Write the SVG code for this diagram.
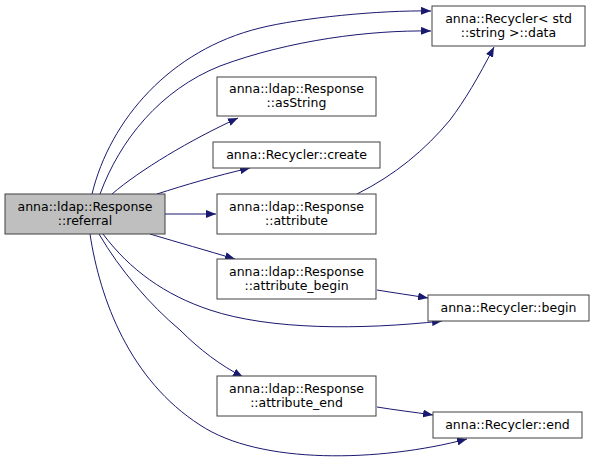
<svg xmlns="http://www.w3.org/2000/svg" width="595" height="463" viewBox="0 0 595 463">
<style>
.n rect{fill:#ffffff;stroke:#404040;stroke-width:1}
.n.main rect{fill:#bfbfbf}
.n text{font-family:"DejaVu Sans",sans-serif;font-size:12.5px;fill:#000000;text-anchor:middle}
.e path{fill:none;stroke:#191970;stroke-width:1}
</style>
<defs>
<marker id="ah" markerWidth="10" markerHeight="8" refX="10" refY="4" orient="auto" markerUnits="userSpaceOnUse">
<polygon points="0,0 10,4 0,8" fill="#191970" stroke="none"/>
</marker>
</defs>
<rect width="595" height="463" fill="#ffffff"/>
<g id="edges" class="e">
<path d="M92,194 C110,120 170,50 260,28 C300,18 380,10 431,11" marker-end="url(#ah)"/>
<path d="M100,194 C120,140 160,90 220,66 C290,40 370,30 431,31" marker-end="url(#ah)"/>
<path d="M112,194 C140,170 190,140 238,118" marker-end="url(#ah)"/>
<path d="M157,194 C185,185 215,176 250,168" marker-end="url(#ah)"/>
<path d="M165,214 L216,214" marker-end="url(#ah)"/>
<path d="M357,194 C395,175 425,150 450,120 C465,100 478,78 494,47" marker-end="url(#ah)"/>
<path d="M150,234 C180,243 205,250 235,259" marker-end="url(#ah)"/>
<path d="M103,234 C130,270 165,295 210,310 C270,330 360,330 442,321" marker-end="url(#ah)"/>
<path d="M377,290 C395,293 410,295 428,298" marker-end="url(#ah)"/>
<path d="M99,234 C120,270 150,305 180,330 C200,350 220,365 243,377" marker-end="url(#ah)"/>
<path d="M377,407 C395,410 413,412 433,415" marker-end="url(#ah)"/>
<path d="M90,234 C100,300 130,380 200,425 C260,465 380,462 467,439" marker-end="url(#ah)"/>
</g>
<g id="node-referral" class="n main">
<rect x="5" y="194" width="160" height="40"/>
<text x="85" y="210.5">anna::ldap::Response</text>
<text x="85" y="224.5">::referral</text>
</g>
<g id="node-data" class="n">
<rect x="432" y="6" width="153" height="40"/>
<text x="508.5" y="22.5">anna::Recycler&lt; std</text>
<text x="508.5" y="36.5">::string &gt;::data</text>
</g>
<g id="node-asString" class="n">
<rect x="217" y="77" width="159" height="39"/>
<text x="296.5" y="93">anna::ldap::Response</text>
<text x="296.5" y="107">::asString</text>
</g>
<g id="node-create" class="n">
<rect x="213" y="142" width="167" height="26"/>
<text x="296.5" y="159">anna::Recycler::create</text>
</g>
<g id="node-attribute" class="n">
<rect x="217" y="194" width="159" height="40"/>
<text x="296.5" y="210.5">anna::ldap::Response</text>
<text x="296.5" y="224.5">::attribute</text>
</g>
<g id="node-attribute_begin" class="n">
<rect x="217" y="259" width="159" height="40"/>
<text x="296.5" y="275.5">anna::ldap::Response</text>
<text x="296.5" y="289.5">::attribute_begin</text>
</g>
<g id="node-begin" class="n">
<rect x="428" y="295" width="161" height="26"/>
<text x="508.5" y="312">anna::Recycler::begin</text>
</g>
<g id="node-attribute_end" class="n">
<rect x="217" y="376" width="159" height="40"/>
<text x="296.5" y="392.5">anna::ldap::Response</text>
<text x="296.5" y="406.5">::attribute_end</text>
</g>
<g id="node-end" class="n">
<rect x="433" y="412" width="149" height="26"/>
<text x="507.5" y="429">anna::Recycler::end</text>
</g>
</svg>
